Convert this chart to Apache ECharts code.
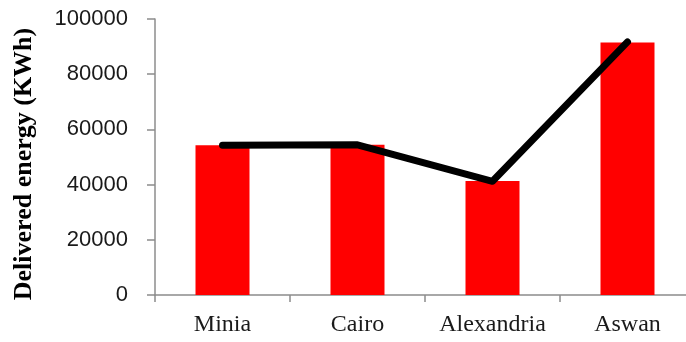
<!DOCTYPE html>
<html>
<head>
<meta charset="utf-8">
<script src="https://cdn.jsdelivr.net/npm/echarts@6/dist/echarts.min.js"></script>
<style>html,body{margin:0;padding:0;background:#fff;}#c{width:686px;height:342px;}</style>
</head>
<body>
<div id="c"></div>
<script>
const categories = ['Minia', 'Cairo', 'Alexandria', 'Aswan'];
const barValues = [54300, 54400, 41300, 91500];
const lineValues = [54300, 54400, 41200, 91700];
const yTicks = [0, 20000, 40000, 60000, 80000, 100000];

const chart = echarts.init(document.getElementById('c'), null, {renderer: 'canvas'});
chart.setOption({
  animation: false,
  backgroundColor: '#fff',
  grid: {left: 155, top: 19, width: 540, height: 276, containLabel: false, outerBoundsMode: 'none'},
  xAxis: {
    type: 'category',
    data: categories,
    boundaryGap: true,
    axisLine: {lineStyle: {color: '#8c8c8c', width: 1.5}},
    axisTick: {show: true, length: 7, lineStyle: {color: '#8c8c8c', width: 1.5}},
    axisLabel: {interval: 0, hideOverlap: false, fontFamily: 'Liberation Serif', fontSize: 24, color: '#1a1a1a', margin: 18}
  },
  yAxis: {
    type: 'value',
    min: yTicks[0],
    max: yTicks[yTicks.length - 1],
    interval: yTicks[1] - yTicks[0],
    splitLine: {show: false},
    axisLine: {show: true, lineStyle: {color: '#8c8c8c', width: 1.5}},
    axisTick: {show: true, length: 8, lineStyle: {color: '#8c8c8c', width: 1.5}},
    axisLabel: {formatter: v => String(v), fontFamily: 'Liberation Sans', fontSize: 22, color: '#1a1a1a', margin: 27},
    name: 'Delivered energy (KWh)',
    nameLocation: 'middle',
    nameGap: 118,
    nameRotate: 90,
    nameTextStyle: {fontFamily: 'Liberation Serif', fontWeight: 'bold', fontSize: 26, color: '#000', padding: [0, 14, 0, 0]}
  },
  series: [
    {
      type: 'bar',
      data: barValues,
      barWidth: '40%',
      itemStyle: {color: '#ff0000'},
      z: 2
    },
    {
      type: 'line',
      data: lineValues,
      showSymbol: false,
      symbol: 'none',
      lineStyle: {color: '#000', width: 7, cap: 'round', join: 'round'},
      z: 3
    }
  ]
});
</script>
</body>
</html>
